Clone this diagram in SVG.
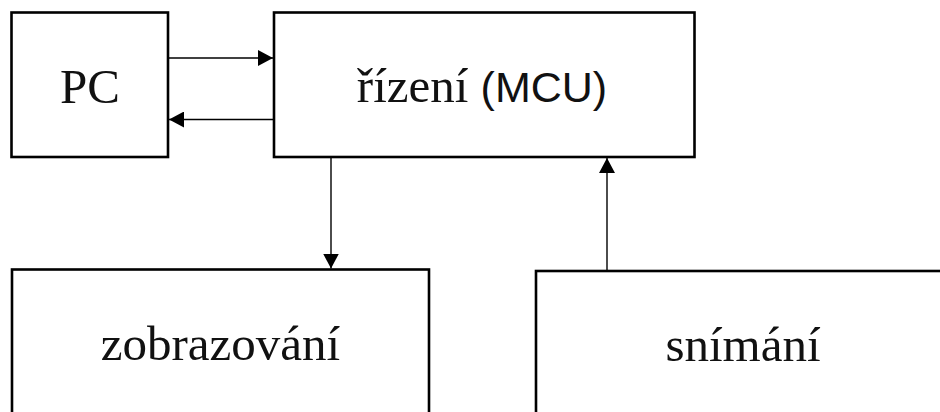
<svg xmlns="http://www.w3.org/2000/svg" width="940" height="412" viewBox="0 0 940 412">
  <style>
    .box { fill: #fff; stroke: #000; stroke-width: 2.6; }
    .lbl { font-family: "Liberation Serif", "Times New Roman", serif; font-size: 49px; fill: #111; text-anchor: middle; }
    .sans { font-family: "Liberation Sans", Arial, sans-serif; font-size: 43px; }
    .wire { fill: none; stroke: #000; stroke-width: 1.4; marker-end: url(#head); }
  </style>
  <defs>
    <marker id="head" markerUnits="userSpaceOnUse" markerWidth="16" markerHeight="16" viewBox="0 0 16 16" refX="15" refY="8" orient="auto">
      <path d="M0,0 L15,8 L0,16 Z" fill="#000"/>
    </marker>
  </defs>
  <rect width="940" height="412" fill="#fff"/>

  <g id="pc">
    <rect class="box" x="11.5" y="12.5" width="156.5" height="144.5"/>
    <text class="lbl" x="90" y="103">PC</text>
  </g>

  <g id="rizeni">
    <rect class="box" x="274" y="12.5" width="420.5" height="144.5"/>
    <text class="lbl" x="482" y="102">řízení <tspan class="sans">(MCU)</tspan></text>
  </g>

  <g id="zobrazovani">
    <rect class="box" x="12" y="269.5" width="417" height="160"/>
    <text class="lbl" x="220.5" y="360">zobrazování</text>
  </g>

  <g id="snimani">
    <rect class="box" x="536" y="271" width="420" height="160"/>
    <text class="lbl" x="743" y="361">snímání</text>
  </g>

  <g id="connectors">
    <line class="wire" x1="168" y1="58" x2="273" y2="58"/>
    <line class="wire" x1="274" y1="119.5" x2="169" y2="119.5"/>
    <line class="wire" x1="331" y1="157" x2="331" y2="268.5"/>
    <line class="wire" x1="607" y1="270" x2="607" y2="158"/>
  </g>
</svg>
